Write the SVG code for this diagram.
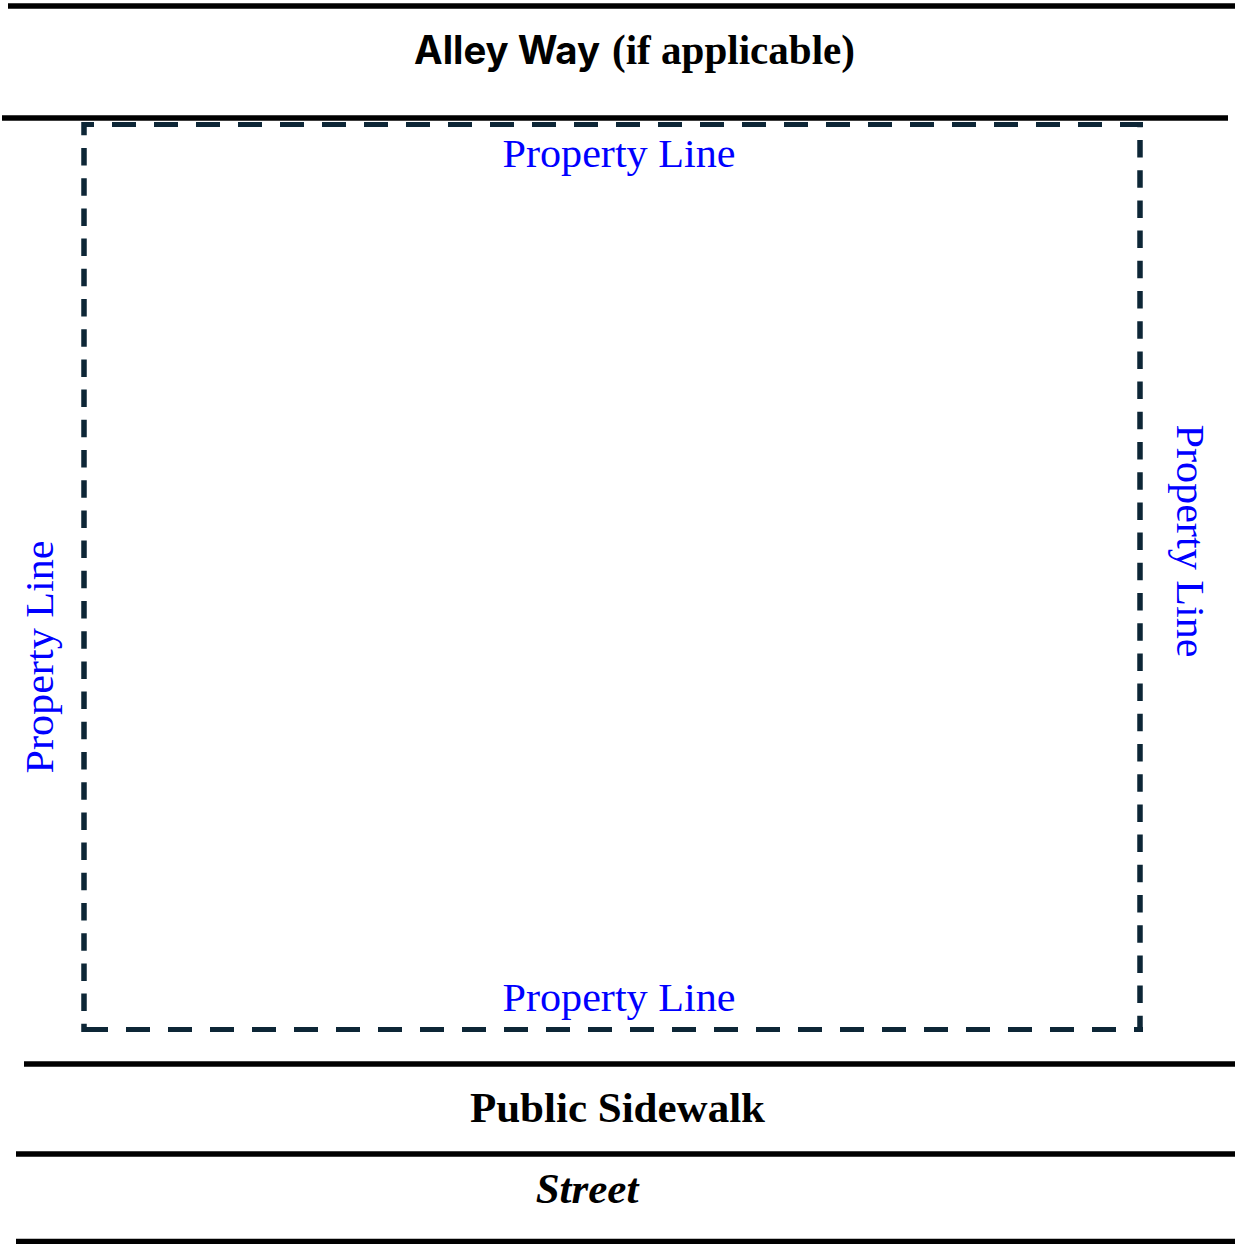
<svg xmlns="http://www.w3.org/2000/svg" width="1235" height="1244" viewBox="0 0 1235 1244">
<style>
.road{stroke:#000;stroke-width:5.5;fill:none}
.prop{stroke:#0d2636;fill:none;stroke-linecap:butt}
.h{stroke-width:5;stroke-dasharray:24 18}
.v{stroke-width:5.5;stroke-dasharray:17.5 12.7}
.pl{font-family:"Liberation Serif",serif;font-size:41px;fill:#0000ff}
.lbl{font-family:"Liberation Serif",serif;font-weight:bold;font-size:43px;fill:#000}
</style>
<rect width="1235" height="1244" fill="#fff"/>
<g id="roads">
<line class="road" x1="8" y1="6" x2="1235" y2="6"/>
<line class="road" x1="2" y1="118" x2="1228" y2="118"/>
<line class="road" x1="24" y1="1064" x2="1235" y2="1064"/>
<line class="road" x1="16" y1="1154" x2="1235" y2="1154"/>
<line class="road" x1="16" y1="1241.5" x2="1235" y2="1241.5"/>
</g>
<g id="property-boundary">
<line class="prop h" x1="82" y1="124.5" x2="1143" y2="124.5" stroke-dashoffset="12"/>
<line class="prop h" x1="82" y1="1029.5" x2="1143" y2="1029.5" stroke-dashoffset="40"/>
<line class="prop v" x1="84" y1="122" x2="84" y2="1032" stroke-dashoffset="4.2"/>
<line class="prop v" x1="1140" y1="122" x2="1140" y2="1032" stroke-dashoffset="12.2"/>
</g>
<g id="alley-label">
<text x="414" y="64" font-weight="bold"><tspan font-family="Inter,'Noto Sans',sans-serif" font-size="39" textLength="186" lengthAdjust="spacingAndGlyphs">Alley Way</tspan><tspan x="612" font-family="'Liberation Serif',serif" font-size="42" textLength="243" lengthAdjust="spacingAndGlyphs">(if applicable)</tspan></text>
</g>
<g id="property-labels">
<text class="pl" x="619" y="167" text-anchor="middle" textLength="233" lengthAdjust="spacingAndGlyphs">Property Line</text>
<text class="pl" x="619" y="1011" text-anchor="middle" textLength="233" lengthAdjust="spacingAndGlyphs">Property Line</text>
<text class="pl" transform="translate(53,657) rotate(-90)" text-anchor="middle" textLength="233" lengthAdjust="spacingAndGlyphs">Property Line</text>
<text class="pl" transform="translate(1177,541) rotate(90)" text-anchor="middle" textLength="233" lengthAdjust="spacingAndGlyphs">Property Line</text>
</g>
<g id="sidewalk-label">
<text class="lbl" x="617.5" y="1122" text-anchor="middle">Public Sidewalk</text>
</g>
<g id="street-label">
<text class="lbl" x="587" y="1203" text-anchor="middle" font-style="italic">Street</text>
</g>
</svg>
